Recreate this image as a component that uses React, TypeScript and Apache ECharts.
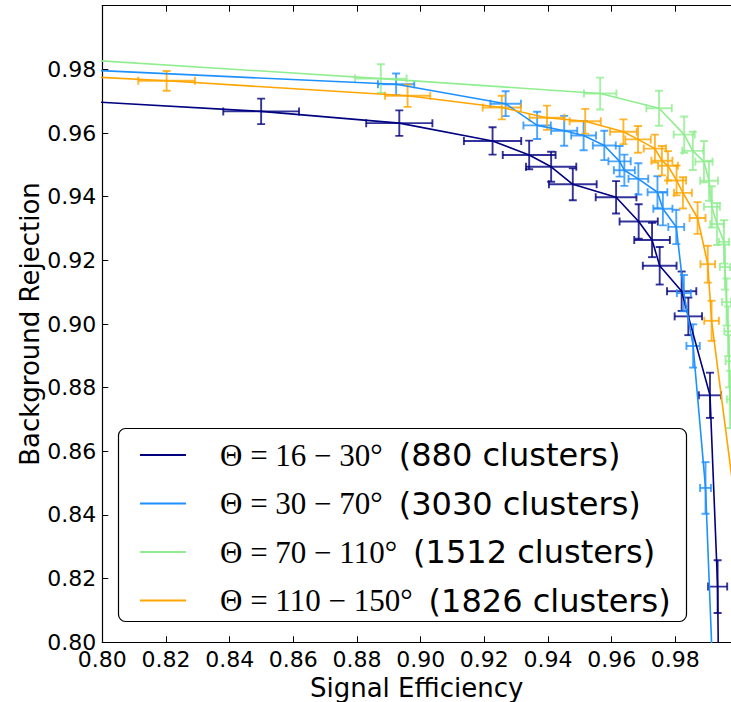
import { useEffect, useRef } from 'react';
import * as echarts from 'echarts';

// Polar-angle bands and their cluster statistics
const thetaRanges = ['16−30', '30−70', '70−110', '110−150'];
const clusterCounts = [880, 3030, 1512, 1826];
const bandColors = ['#000080', '#1e90ff', '#90ee90', '#ffa500'];

// Θ = 16–30°
const sigEff16 = [0.78, 0.8499, 0.8933, 0.9226, 0.9341, 0.941, 0.9478, 0.9614, 0.9685, 0.9727, 0.9751, 0.982, 0.9841, 0.9909, 0.9933, 0.994];
const bkgRej16 = [0.9708, 0.9668, 0.9631, 0.9575, 0.9531, 0.9494, 0.9439, 0.9398, 0.9322, 0.9264, 0.9183, 0.9103, 0.9024, 0.8776, 0.8175, 0.75];
const effErr16 = [0.013, 0.0119, 0.0104, 0.009, 0.0083, 0.0079, 0.0075, 0.0064, 0.006, 0.0056, 0.0053, 0.0046, 0.0043, 0.0035, 0.003, 0.0028];
const rejErr16 = [0.0038, 0.004, 0.004, 0.0043, 0.0045, 0.0047, 0.005, 0.0051, 0.0054, 0.0054, 0.0059, 0.0062, 0.0059, 0.0071, 0.0083, 0.01];

// Θ = 30–70°
const sigEff30 = [0.78, 0.8923, 0.9267, 0.9366, 0.9451, 0.9512, 0.9577, 0.9625, 0.964, 0.9684, 0.9744, 0.9761, 0.9803, 0.9827, 0.9856, 0.9895, 0.9921];
const bkgRej30 = [0.9805, 0.9753, 0.9692, 0.9624, 0.9607, 0.9592, 0.9561, 0.9511, 0.9483, 0.9456, 0.9414, 0.9362, 0.9305, 0.9097, 0.8931, 0.8485, 0.7818];
const effErr30 = [0.0065, 0.0057, 0.0048, 0.0043, 0.0041, 0.0039, 0.0036, 0.0035, 0.0033, 0.0031, 0.0031, 0.003, 0.0025, 0.0022, 0.0021, 0.0017, 0.0015];
const rejErr30 = [0.003, 0.0034, 0.0039, 0.0043, 0.0047, 0.0046, 0.0046, 0.0048, 0.0049, 0.0049, 0.005, 0.0052, 0.0054, 0.0057, 0.0068, 0.0081, 0.01];

// Θ = 70–110°
const sigEff70 = [0.78, 0.8875, 0.9564, 0.9749, 0.9828, 0.9855, 0.989, 0.9906, 0.9915, 0.9931, 0.9953, 0.9956, 0.9961, 0.9966, 0.9969, 0.9972, 0.999];
const bkgRej70 = [0.9839, 0.9771, 0.9724, 0.9678, 0.9595, 0.9544, 0.951, 0.945, 0.9368, 0.9314, 0.9258, 0.9179, 0.9069, 0.8977, 0.8883, 0.8763, 0.8448];
const effErr70 = [0.009, 0.0081, 0.0051, 0.004, 0.0033, 0.0033, 0.0027, 0.0028, 0.0025, 0.0021, 0.0016, 0.0016, 0.0014, 0.0012, 0.0011, 0.001, 0.0008];
const rejErr70 = [0.004, 0.0045, 0.005, 0.0055, 0.0057, 0.006, 0.0065, 0.0063, 0.0065, 0.0066, 0.0068, 0.0071, 0.0074, 0.0078, 0.0082, 0.009, 0.011];

// Θ = 110–150°
const sigEff110 = [0.78, 0.8202, 0.8959, 0.9255, 0.9397, 0.9517, 0.9637, 0.9683, 0.9736, 0.9758, 0.9777, 0.9804, 0.9824, 0.987, 0.9902, 0.9914, 1.0003];
const bkgRej110 = [0.9785, 0.9764, 0.9717, 0.968, 0.9648, 0.9637, 0.9604, 0.958, 0.9551, 0.9513, 0.9497, 0.9451, 0.9412, 0.9333, 0.9188, 0.901, 0.8322];
const effErr110 = [0.0095, 0.0089, 0.0071, 0.006, 0.0055, 0.0049, 0.0042, 0.004, 0.0035, 0.0033, 0.0031, 0.003, 0.0028, 0.0025, 0.0023, 0.0023, 0.0015];
const rejErr110 = [0.003, 0.0031, 0.0035, 0.0037, 0.0038, 0.0039, 0.0039, 0.0042, 0.0044, 0.0046, 0.0046, 0.0047, 0.0049, 0.005, 0.0058, 0.0063, 0.009];

const bands = [
  { eff: sigEff16, rej: bkgRej16, effErr: effErr16, rejErr: rejErr16 },
  { eff: sigEff30, rej: bkgRej30, effErr: effErr30, rejErr: rejErr30 },
  { eff: sigEff70, rej: bkgRej70, effErr: effErr70, rejErr: rejErr70 },
  { eff: sigEff110, rej: bkgRej110, effErr: effErr110, rejErr: rejErr110 },
];

const seriesNames = thetaRanges.map((r, i) => `Θ=${r}° (${clusterCounts[i]} clusters)`);

const SANS = 'DejaVu Sans';
const SERIF = 'Liberation Serif';

const isMajorTick = (v: number) => Math.abs(v / 0.02 - Math.round(v / 0.02)) < 1e-6;

function errorBarSeries(name: string, color: string, data: number[][]) {
  return {
    type: 'custom',
    name,
    data,
    clip: true,
    encode: { x: 0, y: 1 },
    renderItem: (_params: any, api: any) => {
      const x = api.value(0);
      const y = api.value(1);
      const xe = api.value(2);
      const ye = api.value(3);
      const l = api.coord([x - xe, y]);
      const r = api.coord([x + xe, y]);
      const t = api.coord([x, y + ye]);
      const b = api.coord([x, y - ye]);
      const cap = 4;
      const style = { stroke: color, lineWidth: 1.9, opacity: 0.8 };
      const seg = (x1: number, y1: number, x2: number, y2: number) => ({
        type: 'line',
        shape: { x1, y1, x2, y2 },
        style,
      });
      return {
        type: 'group',
        children: [
          seg(l[0], l[1], r[0], r[1]),
          seg(t[0], t[1], b[0], b[1]),
          seg(l[0], l[1] - cap, l[0], l[1] + cap),
          seg(r[0], r[1] - cap, r[0], r[1] + cap),
          seg(t[0] - cap, t[1], t[0] + cap, t[1]),
          seg(b[0] - cap, b[1], b[0] + cap, b[1]),
        ],
      };
    },
  };
}

function buildOption() {
  const series: any[] = [];
  bands.forEach((band, i) => {
    const color = bandColors[i];
    series.push({
      type: 'line',
      name: seriesNames[i],
      color,
      data: band.eff.map((x, k) => [x, band.rej[k]]),
      symbol: 'none',
      clip: true,
      lineStyle: { color, width: 1.6 },
    });
    series.push(
      errorBarSeries(
        `${seriesNames[i]} errors`,
        color,
        band.eff.map((x, k) => [x, band.rej[k], band.effErr[k], band.rejErr[k]])
      )
    );
  });

  const axisLine = { onZero: false, lineStyle: { color: '#000', width: 1.2 } };
  const axisTick = { inside: true, length: 6, lineStyle: { color: '#000', width: 1 } };
  const tickLabel = {
    fontFamily: SANS,
    fontSize: 22,
    color: '#000',
    showMaxLabel: false,
    formatter: (v: number) => (isMajorTick(v) ? v.toFixed(2) : ''),
  };

  return {
    animation: false,
    backgroundColor: '#fff',
    grid: {
      left: 102.3,
      right: 0,
      top: 5.7,
      bottom: 59.7,
      containLabel: false,
      outerBoundsMode: 'none',
    },
    xAxis: [
      {
        type: 'value',
        position: 'bottom',
        min: 0.8,
        max: 0.9975,
        interval: 0.02,
        axisLine,
        axisTick,
        splitLine: { show: false },
        axisLabel: { ...tickLabel, margin: 6 },
        name: 'Signal Efficiency',
        nameLocation: 'middle',
        nameGap: 33,
        nameMoveOverlap: false,
        nameTextStyle: { fontFamily: SANS, fontSize: 26, color: '#000' },
      },
      {
        type: 'value',
        position: 'top',
        min: 0.8,
        max: 0.9975,
        interval: 0.02,
        axisLine,
        axisTick,
        splitLine: { show: false },
        axisLabel: { show: false },
      },
    ],
    yAxis: [
      {
        type: 'value',
        min: 0.8,
        max: 1.0,
        interval: 0.02,
        axisLine,
        axisTick,
        splitLine: { show: false },
        axisLabel: { ...tickLabel, margin: 6 },
        name: 'Background Rejection',
        nameLocation: 'middle',
        nameGap: 59,
        nameRotate: 90,
        nameMoveOverlap: false,
        nameTextStyle: { fontFamily: SANS, fontSize: 26, color: '#000' },
      },
    ],
    legend: {
      data: seriesNames,
      orient: 'vertical',
      left: 140,
      top: 439,
      padding: 0,
      itemGap: 16.5,
      itemWidth: 46,
      itemHeight: 2,
      icon: 'rect',
      selectedMode: false,
      z: 5,
      formatter: (name: string) => {
        const i = seriesNames.indexOf(name);
        const [a, b] = thetaRanges[i].split('−');
        return `{m|Θ = ${a} − ${b}°}{s|(${clusterCounts[i]} clusters)}`;
      },
      textStyle: {
        rich: {
          m: { fontFamily: SERIF, fontSize: 31, lineHeight: 36, color: '#000', padding: [0, 0, 0, 29] },
          s: { fontFamily: SANS, fontSize: 32, lineHeight: 36, color: '#000', padding: [0, 0, 0, 16] },
        },
      },
    },
    graphic: [
      {
        type: 'rect',
        z: 3,
        shape: { x: 118.5, y: 428.5, width: 568, height: 193, r: 7 },
        style: { fill: '#fff', stroke: '#000', lineWidth: 1.2 },
      },
    ],
    series,
  };
}

export default function App() {
  const ref = useRef<HTMLDivElement>(null);
  useEffect(() => {
    if (!ref.current) return;
    const chart = echarts.init(ref.current, null, { renderer: 'svg' });
    chart.setOption(buildOption() as any);
    return () => chart.dispose();
  }, []);
  return (
    <div
      ref={ref}
      style={{ position: 'absolute', left: 0, top: 0, width: 731, height: 702, background: '#fff' }}
    />
  );
}
